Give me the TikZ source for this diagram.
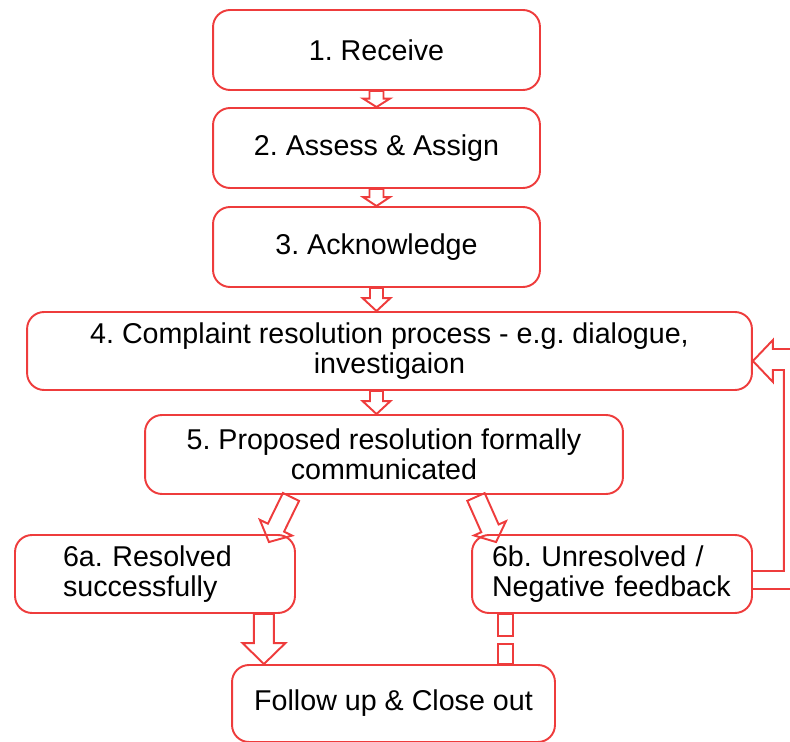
\documentclass[tikz,border=0pt]{standalone}
\usepackage{fontspec}
\setmainfont{Liberation Sans}
\usetikzlibrary{calc}
\definecolor{boxred}{RGB}{238,60,60}
\frenchspacing
% hollow block arrow: from, to, half shaft, half head, head length
\newcommand{\blockarrow}[5]{%
  \coordinate (ab) at ($(#2)!#5!(#1)$);
  \draw[flow] ($(#1)!#3!90:(#2)$) -- ($(ab)!#3!90:(#2)$) -- ($(ab)!#4!90:(#2)$)
    -- (#2) -- ($(ab)!#4!-90:(#2)$) -- ($(ab)!#3!-90:(#2)$) -- ($(#1)!#3!-90:(#2)$) -- cycle;}

\begin{document}
\begin{tikzpicture}[x=0.02cm,y=-0.02cm,
  stage/.style={draw=boxred,line width=1.1pt,rounded corners=0.34cm,inner sep=0pt,
    align=center,font=\fontsize{16.3}{17}\selectfont},
  flow/.style={draw=boxred,line width=1.1pt,line join=miter}]
  \useasboundingbox (0,0) rectangle (790,742);
  \node [stage,minimum width=6.54cm,minimum height=1.6cm](R) at (376.5,50) {1. Receive};
  \node [stage,minimum width=6.54cm,minimum height=1.6cm](S) at (376.5,148) {2. Assess \& Assign};
  \node [stage,minimum width=6.54cm,minimum height=1.6cm](K) at (376.5,247) {3. Acknowledge};
  \node [stage,minimum width=14.5cm,minimum height=1.56cm](C) at (389.5,351)
    {4. Complaint resolution process - e.g. dialogue,\\investigaion};
  \node [stage,minimum width=9.56cm,minimum height=1.58cm](P) at (384,454.5)
    {5. Proposed resolution formally\\communicated};
  \node [stage,align=left,text width=3.68cm,inner xsep=0.96cm,minimum height=1.56cm](A)
    at (155,574) {6a. Resolved\\successfully};
  \node [stage,align=left,text width=4.8cm,inner xsep=0.4cm,minimum height=1.56cm](B)
    at (612,574) {6b. Unresolved /\\Negative feedback};
  \node [stage,minimum width=6.46cm,minimum height=1.54cm](F) at (393.5,703.5)
    {Follow up \& Close out};

  \blockarrow{R.south}{S.north}{0.14cm}{0.27cm}{0.17cm}
  \blockarrow{S.south}{K.north}{0.14cm}{0.27cm}{0.18cm}
  \blockarrow{K.south}{K.south |- C.north}{0.13cm}{0.28cm}{0.26cm}
  \blockarrow{C.south -| K.south}{K.south |- P.north}{0.13cm}{0.28cm}{0.26cm}

  \coordinate (p1) at ($(P.south)+(-93,2)$);
  \coordinate (a1) at ($(A.north east)+(-27,8)$);
  \coordinate (p2) at ($(P.south)+(92,2)$);
  \coordinate (b1) at ($(B.north west)+(25,8)$);
  \blockarrow{p1}{a1}{0.18cm}{0.36cm}{0.32cm}
  \blockarrow{p2}{b1}{0.19cm}{0.35cm}{0.3cm}

  \coordinate (a2) at ($(A.south east)+(-32,0)$);
  \blockarrow{a2}{a2 |- F.north}{0.2cm}{0.43cm}{0.42cm}

  \coordinate (b2) at ($(B.south west)+(34.5,0)$);
  \draw[flow] ($(b2)+(-7.5,0)$) rectangle ($(b2)+(7.5,22)$);
  \draw[flow] ($(b2 |- F.north)+(-7.5,0)$) rectangle ($(b2 |- F.north)+(7.5,-20)$);

  % back to step 4
  \draw[flow] ($(B.east)+(0,15)$) -- ($(B.east)+(43,15)$) -- ($(C.east)+(43,-2)$)
    -- ($(C.east)+(20,-2)$) -- ($(C.east)+(20,-11)$) -- ($(C.east)+(0,10)$)
    -- ($(C.east)+(20,31)$) -- ($(C.east)+(20,19)$) -- ($(C.east)+(31,19)$)
    -- ($(B.east)+(31,-3)$) -- ($(B.east)+(0,-3)$);
\end{tikzpicture}
\end{document}
